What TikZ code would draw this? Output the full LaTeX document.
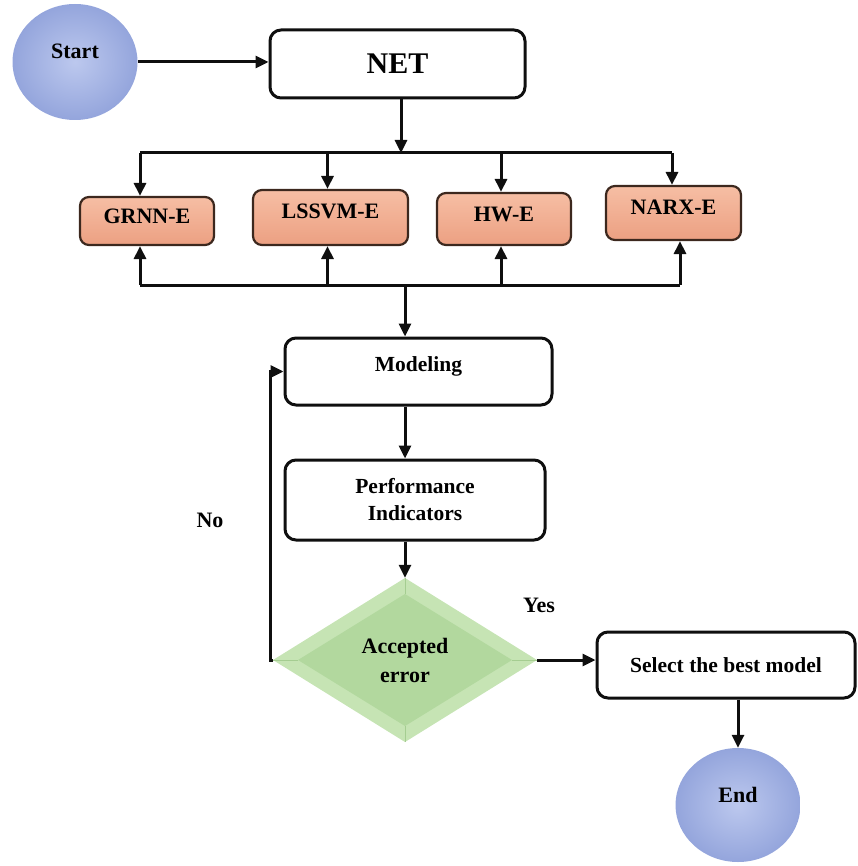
\documentclass[tikz,border=0pt]{standalone}
\usepackage{fontspec}
\setmainfont{Liberation Serif}
\usetikzlibrary{arrows.meta,shapes.geometric}
\definecolor{ink}{RGB}{15,15,15}
\definecolor{bIn}{RGB}{188,200,238}
\definecolor{bOut}{RGB}{148,165,220}
\definecolor{oTop}{RGB}{246,190,164}
\definecolor{oBot}{RGB}{236,160,130}
\definecolor{oLine}{RGB}{60,40,30}
\definecolor{gOut}{RGB}{198,228,180}
\definecolor{gIn}{RGB}{178,216,158}
\definecolor{gEdge}{RGB}{165,205,145}
\begin{document}
\begin{tikzpicture}[x=1pt,y=-1pt,
  arr/.style={-{Triangle[length=13pt,width=12pt]}, line width=3pt, draw=ink},
  lin/.style={line width=3pt, draw=ink},
  wbox/.style={draw=ink, line width=3pt, rounded corners=11pt, fill=white,
    align=center, inner sep=0pt, font=\bfseries\fontsize{21.5}{27}\selectfont},
  obox/.style={draw=oLine, line width=2.2pt, rounded corners=9pt,
    top color=oTop, bottom color=oBot, inner sep=0pt,
    font=\bfseries\fontsize{22}{25}\selectfont},
  sphere/.style={ellipse, inner sep=0pt, shading=radial, inner color=bIn, outer color=bOut,
    font=\bfseries\fontsize{22}{25}\selectfont},
  lbl/.style={font=\bfseries\fontsize{22}{25}\selectfont, inner sep=0pt}
]
\useasboundingbox (0,0) rectangle (857,866);

% start / end
\node[sphere, minimum width=125pt, minimum height=116pt, text depth=22pt] (start) at (75,62) {Start};
\node[sphere, minimum width=125pt, minimum height=114pt, text depth=20pt] (end) at (738,805) {End};

% NET
\node[wbox, minimum width=255pt, minimum height=68pt, font=\bfseries\fontsize{30}{32}\selectfont] (net) at (397.5,64) {NET};

% model boxes
\node[obox, minimum width=134pt, minimum height=48pt, text depth=10pt] (grnn) at (147,221) {GRNN-E};
\node[obox, minimum width=155pt, minimum height=55pt, text depth=12pt] (lssvm) at (330.5,217.5) {LSSVM-E};
\node[obox, minimum width=134pt, minimum height=52pt, text depth=10pt] (hw) at (504,219) {HW-E};
\node[obox, minimum width=135pt, minimum height=54pt, text depth=12pt] (narx) at (673.5,213) {NARX-E};

% modeling / performance
\node[wbox, minimum width=267pt, minimum height=67pt, text depth=14pt] (model) at (418.5,371.5) {Modeling};
\node[wbox, minimum width=260pt, minimum height=80pt] (perf) at (415,500) {Performance\\Indicators};

% decision diamond
\fill[gOut] (405,578) -- (537,660) -- (405,742) -- (273,660) -- cycle;
\fill[gIn] (405,594) -- (512,660) -- (405,726) -- (298,660) -- cycle;
\draw[gEdge, line width=0.8pt] (405,578) -- (405,594) (537,660) -- (512,660)
  (405,742) -- (405,726) (273,660) -- (298,660);
\node[diamond, minimum width=264pt, minimum height=164pt, inner sep=0pt,
  align=center, font=\bfseries\fontsize{22}{29}\selectfont] (acc) at (405,660) {Accepted\\error};

% select
\node[wbox, minimum width=258pt, minimum height=66pt] (sel) at (726,665) {Select the best model};

% connectors
\coordinate (bt) at (401,153);
\coordinate (bb) at (405,285);
\coordinate (nob) at (270,660);
\draw[arr] (start.east) -- (start.east -| net.west);
\draw[arr] (net.south -| bt) -- (bt);
\draw[lin] (140,153) -- (672,153);
\draw[arr] ([xshift=-7pt]grnn.north |- bt) -- ([xshift=-7pt]grnn.north);
\draw[arr] ([xshift=-3pt]lssvm.north |- bt) -- ([xshift=-3pt]lssvm.north);
\draw[arr] ([xshift=-3pt]hw.north |- bt) -- ([xshift=-3pt]hw.north);
\draw[arr] ([xshift=-1.5pt]narx.north |- bt) -- ([xshift=-1.5pt]narx.north);

\draw[lin] (140,285) -- (680,285);
\draw[arr] ([xshift=-7pt]grnn.south |- bb) -- ([xshift=-7pt]grnn.south);
\draw[arr] ([xshift=-3pt]lssvm.south |- bb) -- ([xshift=-3pt]lssvm.south);
\draw[arr] ([xshift=-3pt]hw.south |- bb) -- ([xshift=-3pt]hw.south);
\draw[arr] ([xshift=6.5pt]narx.south |- bb) -- ([xshift=6.5pt]narx.south);
\draw[arr] (bb) -- (bb |- model.north);

\draw[arr] (model.south -| 405,0) -- (perf.north -| 405,0);
\draw[arr] (perf.south -| 405,0) -- (acc.north);
\draw[arr] (acc.west) -- (nob) |- (model.west);
\draw[arr] (acc.east) -- (acc.east -| sel.west);
\draw[arr] (sel.south -| end.north) -- (end.north);

% labels
\node[lbl] (no) at (210,520) {No};
\node[lbl] (yes) at (539,605) {Yes};
\end{tikzpicture}
\end{document}
